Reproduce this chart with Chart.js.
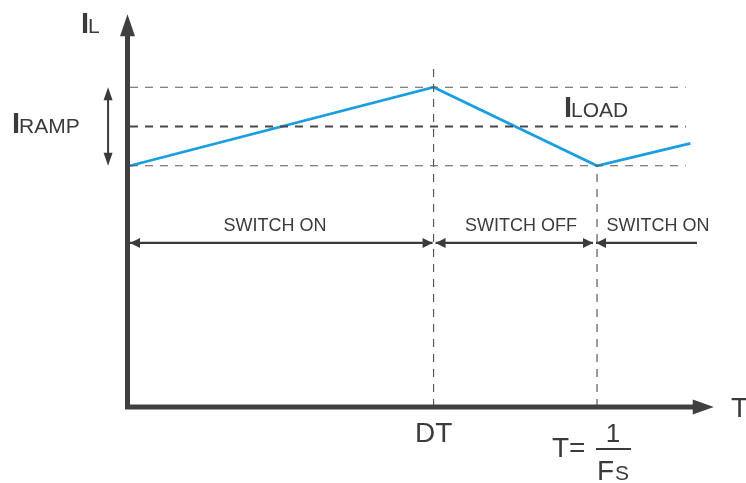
<!DOCTYPE html>
<html>
<head>
<meta charset="utf-8">
<title>Inductor current ripple</title>
<script src="https://cdn.jsdelivr.net/npm/chart.js@4/dist/chart.umd.min.js"></script>
<style>
  html, body { margin: 0; padding: 0; background: #ffffff; }
  #wrap { width: 746px; height: 483px; position: relative; }
</style>
</head>
<body>
<div id="wrap"><canvas id="c" width="746" height="483"></canvas></div>
<script>
// Time in fractions of one switching period T, current in units of I_LOAD.
const dutyCycle = 0.65;                  // DT
const period = 1.0;                       // T = 1/Fs
const waveTimes = [0, 0.65, 1.0, 1.2];    // t / T
const waveCurrent = [0.86, 1.14, 0.86, 0.94];
const iLoad = 1.0;
const iPeak = 1.14;
const iValley = 0.86;

// Text shown on the diagram
const phaseLabels = ['SWITCH ON', 'SWITCH OFF', 'SWITCH ON'];
const timeTickLabel = 'DT';

// Extents of the reference lines and annotations (data units)
const levelEnd = 1.19;
const dtMarkerTop = 1.23;
const phaseArrowLevel = 0.585;
const phaseArrowEnd = 1.214;
const rampArrowTime = -0.047;
const axisOrigin = { t: -0.0054, i: 0 };
const axisTip = { t: 1.25, i: 1.4 };

const ink = '#3b3b3b';
const axisInk = '#404040';
const dashInk = '#5a5a5e';
const waveBlue = '#1a9ee0';

function level(v) { return [{ x: 0, y: v }, { x: levelEnd, y: v }]; }

function head(ctx, tx, ty, ang, len, half) {
  ctx.beginPath();
  ctx.moveTo(tx, ty);
  ctx.lineTo(tx - len * Math.cos(ang) + half * Math.sin(ang), ty - len * Math.sin(ang) - half * Math.cos(ang));
  ctx.lineTo(tx - len * Math.cos(ang) - half * Math.sin(ang), ty - len * Math.sin(ang) + half * Math.cos(ang));
  ctx.closePath();
  ctx.fill();
}

const annotations = {
  id: 'annotations',
  afterDatasetsDraw(chart) {
    const ctx = chart.ctx;
    const xs = chart.scales.x, ys = chart.scales.y;
    const px = v => xs.getPixelForValue(v);
    const py = v => ys.getPixelForValue(v);
    ctx.save();

    // Axes with arrowheads
    const ox = px(axisOrigin.t), oy = py(axisOrigin.i);
    const tipX = px(axisTip.t), tipY = py(axisTip.i);
    ctx.strokeStyle = axisInk; ctx.fillStyle = axisInk;
    ctx.lineWidth = 5; ctx.lineCap = 'butt';
    ctx.beginPath();
    ctx.moveTo(ox, oy + 2.5); ctx.lineTo(ox, tipY + 20);
    ctx.moveTo(ox - 2.5, oy); ctx.lineTo(tipX - 20, oy);
    ctx.stroke();
    head(ctx, ox, tipY, -Math.PI / 2, 22, 7.5);
    head(ctx, tipX, oy, 0, 21, 7.5);

    // Phase arrows
    ctx.strokeStyle = ink; ctx.fillStyle = ink; ctx.lineWidth = 2.2;
    const ay = py(phaseArrowLevel);
    const seg = (a, b, left, right) => {
      ctx.beginPath(); ctx.moveTo(a, ay); ctx.lineTo(b, ay); ctx.stroke();
      if (left) head(ctx, a, ay, Math.PI, 10, 5);
      if (right) head(ctx, b, ay, 0, 10, 5);
    };
    seg(px(0), px(dutyCycle) - 1, true, true);
    seg(px(dutyCycle) + 2, px(period) - 4, true, true);
    seg(px(period) - 1, px(phaseArrowEnd), true, false);

    // Ripple span arrow
    const rx = px(rampArrowTime);
    ctx.lineWidth = 2;
    ctx.beginPath(); ctx.moveTo(rx, py(iPeak) + 8); ctx.lineTo(rx, py(iValley) - 8); ctx.stroke();
    head(ctx, rx, py(iPeak), -Math.PI / 2, 13, 4.5);
    head(ctx, rx, py(iValley), Math.PI / 2, 13, 4.5);

    // Labels
    ctx.fillStyle = ink;
    ctx.textBaseline = 'alphabetic';
    const big = 'bold 29px "Liberation Sans", Arial, sans-serif';
    const mid = '21px "Liberation Sans", Arial, sans-serif';
    const large = '28px "Liberation Sans", Arial, sans-serif';
    const small = '18px "Liberation Sans", Arial, sans-serif';
    const sub = (main, rest, x, y) => {
      ctx.textAlign = 'left';
      ctx.font = big; ctx.fillText(main, x, y);
      ctx.font = mid; ctx.fillText(rest, x + 7, y);
    };
    sub('I', 'L', 81, 33);
    sub('I', 'RAMP', 12, 133);
    sub('I', 'LOAD', 564, 117);

    ctx.font = small; ctx.textAlign = 'center';
    ctx.fillText(phaseLabels[0], 275, 231);
    ctx.fillText(phaseLabels[1], 521, 231);
    ctx.fillText(phaseLabels[2], 658, 231);

    ctx.font = large;
    ctx.fillText(timeTickLabel, px(dutyCycle), 442);
    ctx.textAlign = 'left';
    ctx.fillText('T', 731, 417);
    ctx.fillText('T=', 552, 457);
    ctx.font = '26px "Liberation Sans", Arial, sans-serif';
    ctx.textAlign = 'center';
    ctx.fillText('1', 613, 442);
    ctx.fillRect(596, 448, 35, 2);
    ctx.textAlign = 'left';
    ctx.font = large; ctx.fillText('F', 597, 480);
    ctx.font = mid; ctx.fillText('S', 615, 480);

    ctx.restore();
  }
};

const dashed = (data, width, color) => ({
  data, showLine: true, pointRadius: 0, borderColor: color,
  borderWidth: width, borderDash: [8, 7], fill: false
});

new Chart(document.getElementById('c'), {
  type: 'scatter',
  data: {
    datasets: [
      dashed(level(iPeak), 1.2, dashInk),
      dashed(level(iLoad), 2, '#48484c'),
      dashed(level(iValley), 1.2, dashInk),
      dashed([{ x: dutyCycle, y: 0 }, { x: dutyCycle, y: dtMarkerTop }], 1.2, dashInk),
      dashed([{ x: period, y: 0 }, { x: period, y: iValley }], 1.2, dashInk),
      {
        data: waveTimes.map((t, k) => ({ x: t, y: waveCurrent[k] })),
        showLine: true, pointRadius: 0, borderColor: waveBlue, borderWidth: 2.8,
        fill: false, tension: 0
      }
    ]
  },
  options: {
    responsive: false,
    animation: false,
    layout: { padding: 0 },
    plugins: { legend: { display: false }, tooltip: { enabled: false } },
    scales: {
      x: { type: 'linear', display: false, min: -0.2784, max: 1.319 },
      y: { type: 'linear', display: false, min: -0.271, max: 1.451 }
    }
  },
  plugins: [annotations]
});
</script>
</body>
</html>
